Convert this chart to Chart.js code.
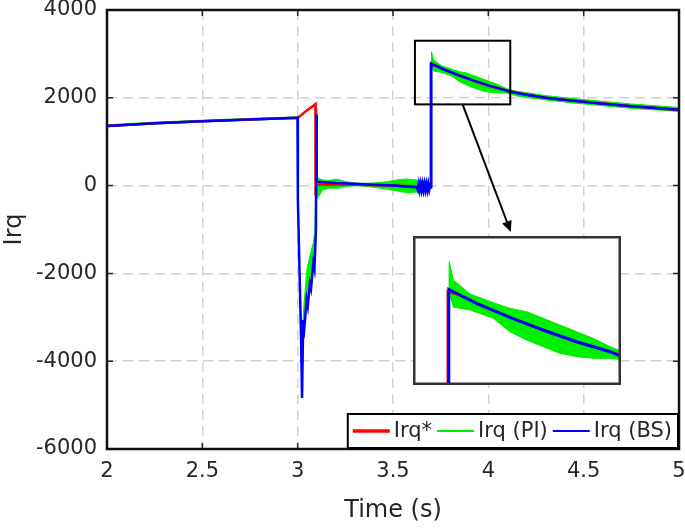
<!DOCTYPE html>
<html lang="en">
  <head>
    <meta charset="UTF-8" />
    <title>Irq response</title>
    <script src="https://cdn.jsdelivr.net/npm/chart.js"></script>
    <style>
      body { margin: 0; background: #fff; }
      .wrap { position: relative; width: 685px; height: 528px; }
      #mainChart { position: absolute; left: 0; top: 0; }
      #zoomChart { position: absolute; left: 413px; top: 236px; }
    </style>
  </head>
  <body>
    <div class="wrap">
      <canvas id="mainChart" width="685" height="528"></canvas>
      <canvas id="zoomChart" width="208" height="149"></canvas>
    </div>
    <script>
      // Irq* (reference)
      const tRef = [2.0, 2.25, 2.5, 2.75, 3.0, 3.02, 3.04, 3.06, 3.08, 3.093, 3.094, 3.097, 3.3, 3.5, 3.697, 3.698, 3.728, 3.768, 3.848, 3.928, 4.008, 4.089, 4.2, 4.3, 4.5, 4.75, 5.0];
      const irqRef = [1360, 1420, 1468, 1508, 1545, 1610, 1685, 1750, 1810, 1860, -220, 30, 20, 0, -40, 2760, 2720, 2640, 2505, 2380, 2268, 2172, 2068, 2000, 1910, 1810, 1720];

      // Irq (PI) - upper and lower edge of the oscillating band
      const tPI = [2.0, 2.25, 2.5, 2.75, 2.999, 3.001, 3.018, 3.022, 3.03, 3.047, 3.064, 3.082, 3.091, 3.099, 3.101, 3.11, 3.13, 3.16, 3.21, 3.25, 3.3, 3.34, 3.4, 3.47, 3.52, 3.57, 3.62, 3.66, 3.699, 3.702, 3.712, 3.752, 3.808, 3.848, 3.888, 3.928, 3.968, 4.008, 4.048, 4.089, 4.109, 4.15, 4.3, 4.5, 4.75, 5.0];
      const irqPIHigh = [1385, 1445, 1490, 1530, 1565, -300, -3300, -3650, -2900, -1950, -1600, -1300, -1000, 1770, 220, 160, 130, 120, 145, 90, 60, 50, 60, 90, 130, 150, 130, 100, 40, 3050, 2872, 2736, 2651, 2596, 2563, 2499, 2434, 2369, 2304, 2223, 2191, 2150, 2050, 1960, 1860, 1780];
      const irqPILow = [1340, 1400, 1450, 1490, 1525, -350, -3500, -3900, -3150, -2550, -2200, -1750, -1150, 1500, -300, -250, -100, -60, -60, -25, 0, -10, -40, -80, -120, -160, -150, -140, -80, 2750, 2609, 2580, 2499, 2369, 2288, 2223, 2158, 2126, 2110, 2110, 2100, 2040, 1950, 1860, 1760, 1690];

      // Irq (BS)
      const tBS = [2.0, 2.25, 2.5, 2.75, 2.999, 3.001, 3.018, 3.023, 3.029, 3.035, 3.047, 3.053, 3.064, 3.07, 3.082, 3.088, 3.096, 3.098, 3.1, 3.2, 3.3, 3.4, 3.5, 3.6, 3.625, 3.63, 3.635, 3.64, 3.645, 3.65, 3.655, 3.66, 3.665, 3.67, 3.675, 3.68, 3.685, 3.69, 3.695, 3.7, 3.701, 3.728, 3.768, 3.848, 3.928, 4.008, 4.089, 4.108, 4.2, 4.3, 4.4, 4.5, 4.6, 4.75, 4.9, 5.0];
      const irqBS = [1360, 1420, 1468, 1508, 1545, -300, -3500, -4840, -3060, -3250, -2600, -2750, -2230, -2350, -1770, -1900, -1000, 1620, 90, 60, 40, 20, 0, -30, -40, -100, 40, -100, 40, -100, 40, -100, 40, -100, 40, -100, 40, -100, 0, -30, 2781, 2726, 2645, 2509, 2385, 2271, 2174, 2142, 2070, 2000, 1950, 1910, 1865, 1810, 1760, 1730];

      const xTicks = [2, 2.5, 3, 3.5, 4, 4.5, 5];
      const yTicks = [-6000, -4000, -2000, 0, 2000, 4000];
      // region shown enlarged in the inset
      const zoomTime = [3.615, 4.115];
      const zoomIrq = [1850, 3300];

      const textColor = "#262626";
      const fontFamily = "'DejaVu Sans', sans-serif";
      const colRef = "#ff0000";
      const colPI = "#00ee00";
      const colBS = "#0000ff";

      const toPoints = (xs, ys) => xs.map((x, i) => ({ x: x, y: ys[i] }));

      function makeDatasets(bsWidth, refWidth) {
        return [
          { label: "Irq*", data: toPoints(tRef, irqRef), borderColor: colRef, borderWidth: refWidth, order: 1, fill: false },
          { label: "Irq (PI)", data: toPoints(tPI, irqPIHigh), borderColor: colPI, borderWidth: 1, order: 2, fill: false },
          { label: "", data: toPoints(tPI, irqPILow), borderColor: colPI, borderWidth: 1, backgroundColor: colPI, order: 2, fill: "-1" },
          { label: "Irq (BS)", data: toPoints(tBS, irqBS), borderColor: colBS, borderWidth: bsWidth, order: 0, fill: false },
        ];
      }

      const frame = {
        id: "frame",
        afterDatasetsDraw(chart) {
          const { ctx, scales } = chart;
          ctx.save();
          // zoom box
          const zx0 = scales.x.getPixelForValue(zoomTime[0]);
          const zx1 = scales.x.getPixelForValue(zoomTime[1]);
          const zy0 = scales.y.getPixelForValue(zoomIrq[1]);
          const zy1 = scales.y.getPixelForValue(zoomIrq[0]);
          ctx.strokeStyle = "#000";
          ctx.lineWidth = 2;
          ctx.strokeRect(zx0, zy0, zx1 - zx0, zy1 - zy0);
          // arrow to the inset
          const inset = document.getElementById("zoomChart");
          const sx = zx0 + (zx1 - zx0) * 0.5;
          const sy = zy1;
          const ex = inset.offsetLeft + inset.width * 0.47;
          const ey = inset.offsetTop - 4;
          const ang = Math.atan2(ey - sy, ex - sx);
          ctx.lineWidth = 2;
          ctx.beginPath();
          ctx.moveTo(sx, sy);
          ctx.lineTo(ex - 8 * Math.cos(ang), ey - 8 * Math.sin(ang));
          ctx.stroke();
          ctx.beginPath();
          ctx.moveTo(ex, ey);
          ctx.lineTo(ex - 11 * Math.cos(ang) + 5 * Math.sin(ang), ey - 11 * Math.sin(ang) - 5 * Math.cos(ang));
          ctx.lineTo(ex - 11 * Math.cos(ang) - 5 * Math.sin(ang), ey - 11 * Math.sin(ang) + 5 * Math.cos(ang));
          ctx.closePath();
          ctx.fillStyle = "#000";
          ctx.fill();
          ctx.restore();
        },
        afterDraw(chart) {
          const { ctx, chartArea: a, scales } = chart;
          ctx.save();
          // inward tick marks
          ctx.strokeStyle = textColor;
          ctx.lineWidth = 1.5;
          ctx.beginPath();
          xTicks.forEach((v) => {
            const px = scales.x.getPixelForValue(v);
            ctx.moveTo(px, a.bottom);
            ctx.lineTo(px, a.bottom - 6);
            ctx.moveTo(px, a.top);
            ctx.lineTo(px, a.top + 6);
          });
          yTicks.forEach((v) => {
            const py = scales.y.getPixelForValue(v);
            ctx.moveTo(a.left, py);
            ctx.lineTo(a.left + 6, py);
            ctx.moveTo(a.right, py);
            ctx.lineTo(a.right - 6, py);
          });
          ctx.stroke();
          // axes box
          ctx.strokeStyle = "#111";
          ctx.lineWidth = 2.5;
          ctx.strokeRect(a.left, a.top, a.right - a.left, a.bottom - a.top);

          // legend
          const ds = chart.data.datasets;
          const items = [ds[0], ds[1], ds[3]];
          ctx.font = "21px " + fontFamily;
          const lineLen = 37;
          let total = 5;
          items.forEach((d, i) => {
            total += lineLen + 4 + ctx.measureText(d.label).width + (i < items.length - 1 ? 5 : 6);
          });
          const bh = 34;
          const bx = a.right - total - 1;
          const by = a.bottom - bh - 1;
          ctx.fillStyle = "#fff";
          ctx.fillRect(bx, by, total, bh);
          ctx.strokeStyle = "#000";
          ctx.lineWidth = 2;
          ctx.strokeRect(bx, by, total, bh);
          let x = bx + 5;
          const cy = by + bh / 2;
          items.forEach((d, i) => {
            ctx.strokeStyle = d.borderColor;
            ctx.lineWidth = i === 0 ? 3.5 : 2;
            ctx.beginPath();
            ctx.moveTo(x, cy);
            ctx.lineTo(x + lineLen, cy);
            ctx.stroke();
            x += lineLen + 4;
            ctx.fillStyle = textColor;
            ctx.textBaseline = "middle";
            ctx.textAlign = "left";
            ctx.fillText(d.label, x, cy + 1);
            x += ctx.measureText(d.label).width + 5;
          });
          ctx.restore();
        },
      };

      new Chart(document.getElementById("mainChart"), {
        type: "line",
        data: { datasets: makeDatasets(2.5, 2.5) },
        options: {
          responsive: false,
          animation: false,
          layout: { padding: { left: 0, right: 6, top: 10, bottom: 0 } },
          elements: { point: { radius: 0 }, line: { tension: 0 } },
          plugins: { legend: { display: false }, tooltip: { enabled: false } },
          scales: {
            x: {
              type: "linear",
              min: 2,
              max: 5,
              afterBuildTicks: (s) => { s.ticks = xTicks.map((v) => ({ value: v })); },
              ticks: { color: textColor, font: { family: fontFamily, size: 21 }, padding: 10, maxRotation: 0, callback: (v) => String(v) },
              grid: { color: "#d3d3d3", lineWidth: 1.5, drawTicks: false },
              border: { display: false, dash: [10, 6] },
              title: { display: true, text: "Time (s)", color: textColor, font: { family: fontFamily, size: 24 }, padding: { top: 0, bottom: 3 } },
              afterFit: (s) => { s.height = 79; s.paddingLeft = 0; s.paddingRight = 0; },
            },
            y: {
              min: -6000,
              max: 4000,
              afterBuildTicks: (s) => { s.ticks = yTicks.map((v) => ({ value: v })); },
              ticks: { color: textColor, font: { family: fontFamily, size: 21 }, padding: 10, callback: (v) => String(v) },
              grid: { color: "#d3d3d3", lineWidth: 1.5, drawTicks: false },
              border: { display: false, dash: [10, 6] },
              title: { display: true, text: "Irq", color: textColor, font: { family: fontFamily, size: 24 }, padding: { top: 0, bottom: 0 } },
              afterFit: (s) => { s.width = 107; s.paddingTop = 0; s.paddingBottom = 0; },
            },
          },
        },
        plugins: [frame],
      });

      // inset with the enlarged region
      const insetFrame = {
        id: "insetFrame",
        beforeDraw(chart) {
          const { ctx, width, height } = chart;
          ctx.save();
          ctx.fillStyle = "#fff";
          ctx.fillRect(0, 0, width, height);
          ctx.restore();
        },
        afterDraw(chart) {
          const { ctx, width, height } = chart;
          ctx.save();
          ctx.strokeStyle = "#333";
          ctx.lineWidth = 2.5;
          ctx.strokeRect(1.25, 1.25, width - 2.5, height - 2.5);
          ctx.restore();
        },
      };

      new Chart(document.getElementById("zoomChart"), {
        type: "line",
        data: { datasets: makeDatasets(3, 2) },
        options: {
          responsive: false,
          animation: false,
          layout: { padding: 0 },
          elements: { point: { radius: 0 }, line: { tension: 0 } },
          plugins: { legend: { display: false }, tooltip: { enabled: false } },
          scales: {
            x: { type: "linear", display: false, min: zoomTime[0], max: zoomTime[1] },
            y: { display: false, min: zoomIrq[0], max: zoomIrq[1] },
          },
        },
        plugins: [insetFrame],
      });
    </script>
  </body>
</html>
